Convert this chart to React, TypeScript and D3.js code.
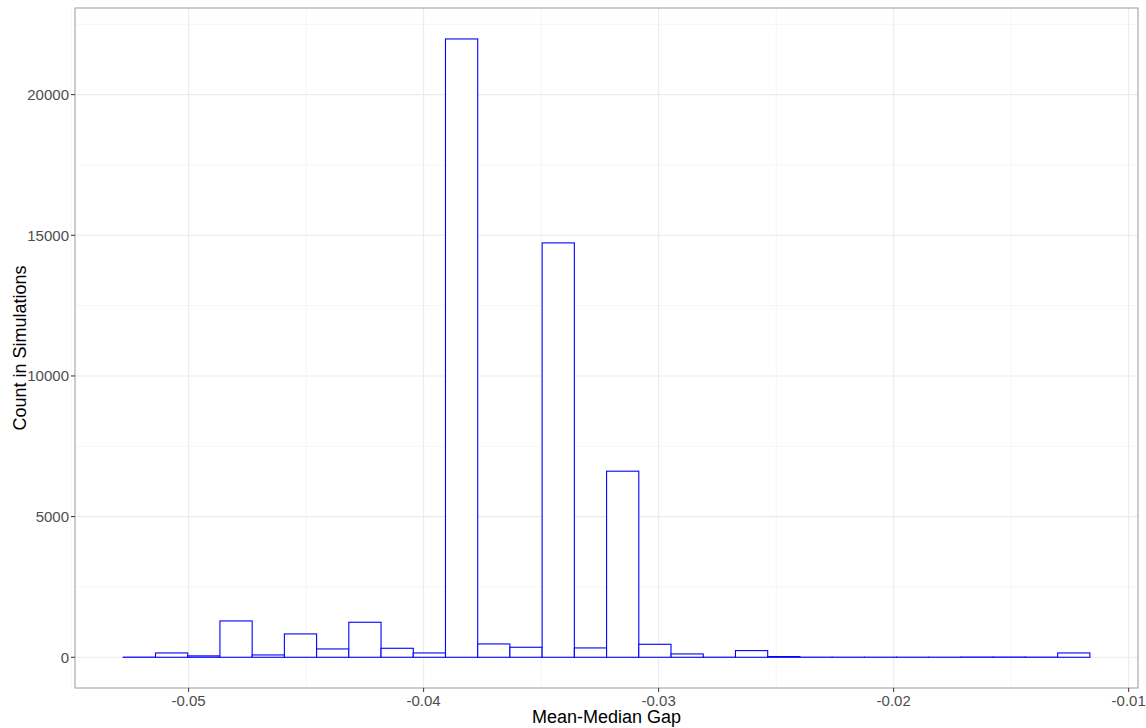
import React from "react";
import * as d3 from "d3";

const binStart = -0.05278;
const binWidth = 0.001371;
const counts = [5, 154, 50, 1292, 83, 830, 296, 1245, 320, 154, 21980, 474, 356, 14730, 332, 6615, 462, 119, 3, 237, 25, 4, 3, 3, 3, 3, 8, 8, 5, 154];
const xTicks = [-0.05, -0.04, -0.03, -0.02, -0.01];
const xMinor = [-0.055, -0.045, -0.035, -0.025, -0.015];
const yTicks = [0, 5000, 10000, 15000, 20000];
const yMinor = [2500, 7500, 12500, 17500, 22500];

export default function App() {
  const W = 1146, H = 728;
  const L = 75, R = 1138, T = 8, B = 688;
  const x = d3.scaleLinear().domain([-0.054834, -0.009603]).range([L, R]);
  const y = d3.scaleLinear().domain([-1092, 23080]).range([B, T]);
  const font = "'Liberation Sans', Arial, sans-serif";
  return (
    <svg width={W} height={H} style={{ position: "absolute", left: 0, top: 0, background: "#fff" }} fontFamily={font}>
      {yMinor.map(v => <line key={"ym" + v} x1={L} x2={R} y1={y(v)} y2={y(v)} stroke="#f3f3f3" strokeWidth={0.8} />)}
      {xMinor.map(v => <line key={"xm" + v} y1={T} y2={B} x1={x(v)} x2={x(v)} stroke="#f3f3f3" strokeWidth={0.8} />)}
      {yTicks.map(v => <line key={"y" + v} x1={L} x2={R} y1={y(v)} y2={y(v)} stroke="#ebebeb" strokeWidth={1.1} />)}
      {xTicks.map(v => <line key={"x" + v} y1={T} y2={B} x1={x(v)} x2={x(v)} stroke="#ebebeb" strokeWidth={1.1} />)}
      {counts.map((c, i) => {
        const x0 = x(binStart + i * binWidth), x1 = x(binStart + (i + 1) * binWidth);
        return <rect key={i} x={x0} width={x1 - x0} y={y(c)} height={y(0) - y(c)} fill="#fff" stroke="#0000ff" strokeWidth={1.1} />;
      })}
      <rect x={L} y={T} width={R - L} height={B - T} fill="none" stroke="#999" strokeWidth={1} />
      {yTicks.map(v => (
        <g key={"yt" + v}>
          <line x1={L - 4} x2={L} y1={y(v)} y2={y(v)} stroke="#333" />
          <text x={L - 6} y={y(v)} dy="0.35em" textAnchor="end" fontSize={15} fill="#4d4d4d">{v}</text>
        </g>
      ))}
      {xTicks.map(v => (
        <g key={"xt" + v}>
          <line y1={B} y2={B + 4} x1={x(v)} x2={x(v)} stroke="#333" />
          <text x={x(v)} y={B + 18} textAnchor="middle" fontSize={15} fill="#4d4d4d">{v.toFixed(2)}</text>
        </g>
      ))}
      <text x={(L + R) / 2} y={723} textAnchor="middle" fontSize={18} fill="#000">Mean-Median Gap</text>
      <text transform={`translate(26,${(T + B) / 2}) rotate(-90)`} textAnchor="middle" fontSize={18} fill="#000">Count in Simulations</text>
    </svg>
  );
}
